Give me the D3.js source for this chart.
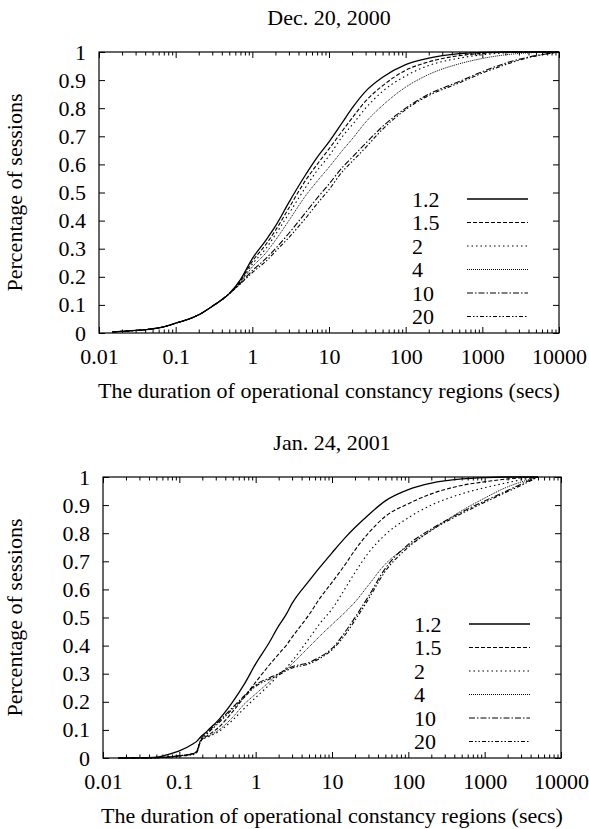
<!DOCTYPE html>
<html><head><meta charset="utf-8">
<script src="https://cdn.jsdelivr.net/npm/d3@7"></script>
<style>
body{margin:0;background:#fff}
svg{display:block}
text{font-family:"Liberation Serif","Times New Roman",serif;fill:#000}
</style>
</head><body>
<svg id="c" width="589" height="829"></svg>
<script>
// ---------- data ----------
const seriesNames = ["1.2", "1.5", "2", "4", "10", "20"];
const titles = ["Dec. 20, 2000", "Jan. 24, 2001"];
const xLabel = "The duration of operational constancy regions (secs)";
const yLabel = "Percentage of sessions";
const xTickValues = [0.01, 0.1, 1, 10, 100, 1000, 10000];
const xTickLabels = ["0.01", "0.1", "1", "10", "100", "1000", "10000"];
const yTickValues = [0, 0.1, 0.2, 0.3, 0.4, 0.5, 0.6, 0.7, 0.8, 0.9, 1];
const yTickLabels = ["0", "0.1", "0.2", "0.3", "0.4", "0.5", "0.6", "0.7", "0.8", "0.9", "1"];

// Dec. 20, 2000
const decX   = [0.015,0.02,0.03,0.05,0.07,0.1,0.15,0.2,0.3,0.5,0.7,1,1.5,2,3,5,7,10,15,20,30,50,100,200,500,1000,2000,4000,8000,10000];
const dec_12 = [0.004,0.006,0.009,0.015,0.022,0.035,0.05,0.065,0.095,0.14,0.19,0.265,0.33,0.38,0.465,0.565,0.625,0.68,0.75,0.80,0.86,0.91,0.955,0.978,0.994,0.999,1,1,1,1];
const dec_15 = [0.004,0.006,0.009,0.015,0.022,0.035,0.05,0.065,0.095,0.14,0.185,0.255,0.315,0.365,0.445,0.545,0.60,0.655,0.72,0.765,0.825,0.88,0.935,0.965,0.987,0.995,0.999,1,1,1];
const dec_2  = [0.004,0.006,0.009,0.015,0.022,0.035,0.05,0.065,0.095,0.14,0.183,0.245,0.30,0.35,0.425,0.52,0.578,0.63,0.70,0.74,0.80,0.86,0.915,0.952,0.978,0.99,0.997,1,1,1];
const dec_4  = [0.004,0.006,0.009,0.015,0.022,0.035,0.05,0.065,0.095,0.14,0.18,0.235,0.285,0.33,0.40,0.49,0.54,0.59,0.65,0.69,0.75,0.81,0.875,0.92,0.958,0.977,0.99,0.997,1,1];
const dec_10 = [0.004,0.006,0.009,0.015,0.022,0.035,0.05,0.065,0.095,0.14,0.177,0.222,0.265,0.30,0.355,0.43,0.48,0.53,0.59,0.625,0.675,0.735,0.80,0.85,0.895,0.93,0.96,0.982,0.996,1];
const dec_20 = [0.004,0.006,0.009,0.015,0.022,0.035,0.05,0.065,0.095,0.14,0.175,0.215,0.255,0.29,0.34,0.41,0.46,0.51,0.575,0.61,0.66,0.725,0.795,0.845,0.89,0.925,0.955,0.98,0.996,1];

// Jan. 24, 2001
const janX   = [0.016,0.03,0.05,0.07,0.1,0.15,0.17,0.19,0.22,0.25,0.3,0.5,0.7,1,1.5,2,2.5,3,5,7,10,15,20,30,50,100,200,500,1000,2000,3000,5000];
const jan_12 = [0,0.001,0.003,0.012,0.025,0.05,0.06,0.075,0.09,0.105,0.125,0.2,0.26,0.335,0.41,0.47,0.51,0.55,0.63,0.68,0.73,0.785,0.82,0.865,0.915,0.955,0.978,0.993,0.998,1,1,1];
const jan_15 = [0,0,0.001,0.003,0.008,0.015,0.025,0.06,0.075,0.085,0.1,0.165,0.215,0.27,0.33,0.37,0.40,0.43,0.51,0.57,0.625,0.69,0.74,0.80,0.86,0.905,0.94,0.97,0.983,0.993,0.997,1];
const jan_2  = [0,0,0.001,0.003,0.008,0.015,0.025,0.06,0.072,0.078,0.088,0.135,0.175,0.215,0.26,0.295,0.32,0.345,0.425,0.48,0.53,0.605,0.66,0.73,0.795,0.855,0.90,0.94,0.962,0.98,0.99,1];
const jan_4  = [0,0,0.001,0.003,0.008,0.015,0.025,0.062,0.074,0.08,0.092,0.145,0.19,0.228,0.27,0.30,0.315,0.335,0.395,0.435,0.475,0.52,0.555,0.615,0.69,0.755,0.81,0.88,0.925,0.965,0.982,1];
const jan_10 = [0,0,0.001,0.003,0.008,0.015,0.025,0.065,0.085,0.10,0.12,0.18,0.22,0.26,0.285,0.30,0.315,0.325,0.34,0.36,0.39,0.45,0.50,0.575,0.675,0.76,0.815,0.875,0.915,0.952,0.975,1];
const jan_20 = [0,0,0.001,0.003,0.007,0.012,0.02,0.06,0.08,0.095,0.115,0.175,0.215,0.255,0.28,0.295,0.31,0.32,0.335,0.355,0.385,0.44,0.49,0.565,0.665,0.75,0.81,0.87,0.91,0.948,0.97,1];

// ---------- styles / layout ----------
const dashes = [null, "4,2", "1.5,3", "1,1", "6,2,1.5,2", "4,2,1.5,2,1.5,2"];
const widths = [1.3, 1.1, 1.1, 1, 1.1, 1.1];
const FS = 22;

const panels = [
  {title: titles[0], x: decX, ys: [dec_12, dec_15, dec_2, dec_4, dec_10, dec_20],
   left: 99, right: 559, top: 52, bottom: 333},
  {title: titles[1], x: janX, ys: [jan_12, jan_15, jan_2, jan_4, jan_10, jan_20],
   left: 103, right: 561, top: 477, bottom: 758}
];

const svg = d3.select("#c");

panels.forEach(p => {
  const g = svg.append("g");
  const x = d3.scaleLog().domain([0.01, 10000]).range([p.left, p.right]);
  const y = d3.scaleLinear().domain([0, 1]).range([p.bottom, p.top]);

  const minor = [];
  xTickValues.slice(0, -1).forEach(d => { for (let k = 2; k <= 9; k++) minor.push(d * k); });

  const fmtX = (d) => xTickLabels[xTickValues.indexOf(d)];
  const fmtY = (d) => yTickLabels[yTickValues.indexOf(d)];

  g.append("g").attr("transform", `translate(0,${p.bottom})`)
    .call(d3.axisBottom(x).tickValues(minor).tickSize(-3.5).tickFormat(""))
    .call(a => a.select(".domain").remove());
  g.append("g").attr("transform", `translate(0,${p.top})`)
    .call(d3.axisTop(x).tickValues(minor).tickSize(-3.5).tickFormat(""))
    .call(a => a.select(".domain").remove());
  const xb = g.append("g").attr("transform", `translate(0,${p.bottom})`)
    .call(d3.axisBottom(x).tickValues(xTickValues).tickSize(-6).tickPadding(15).tickFormat(fmtX));
  xb.select(".domain").remove();
  g.append("g").attr("transform", `translate(0,${p.top})`)
    .call(d3.axisTop(x).tickValues(xTickValues).tickSize(-6).tickFormat(""))
    .call(a => a.select(".domain").remove());
  const yl = g.append("g").attr("transform", `translate(${p.left},0)`)
    .call(d3.axisLeft(y).tickValues(yTickValues).tickSize(-6).tickPadding(13).tickFormat(fmtY));
  yl.select(".domain").remove();
  g.append("g").attr("transform", `translate(${p.right},0)`)
    .call(d3.axisRight(y).tickValues(yTickValues).tickSize(-6).tickFormat(""))
    .call(a => a.select(".domain").remove());

  g.selectAll(".tick line").attr("stroke", "#000").attr("stroke-width", 1);
  g.selectAll(".tick text").attr("font-size", FS).attr("font-family", '"Liberation Serif",serif');

  g.append("rect").attr("x", p.left).attr("y", p.top)
    .attr("width", p.right - p.left).attr("height", p.bottom - p.top)
    .attr("fill", "none").attr("stroke", "#000").attr("stroke-width", 1.2);

  const line = d3.line().x(d => x(d[0])).y(d => y(d[1])).curve(d3.curveMonotoneX);
  p.ys.forEach((ys, i) => {
    const pts = p.x.map((xv, j) => [xv, ys[j]]);
    g.append("path").attr("d", line(pts)).attr("fill", "none")
      .attr("stroke", "#000").attr("stroke-width", widths[i])
      .attr("stroke-dasharray", dashes[i]);
  });

  seriesNames.forEach((n, i) => {
    const ry = p.top + 147 + i * 23.5;
    g.append("text").attr("x", p.right - 147).attr("y", ry + 7.5)
      .attr("font-size", FS).text(n);
    g.append("line").attr("x1", p.right - 92).attr("x2", p.right - 31)
      .attr("y1", ry).attr("y2", ry)
      .attr("stroke", "#000").attr("stroke-width", widths[i])
      .attr("stroke-dasharray", dashes[i]);
  });

  g.append("text").attr("x", (p.left + p.right) / 2).attr("y", p.top - 27)
    .attr("text-anchor", "middle").attr("font-size", FS).text(p.title);
  g.append("text").attr("x", (p.left + p.right) / 2).attr("y", p.bottom + 65)
    .attr("text-anchor", "middle").attr("font-size", FS).text(xLabel);
  const cy = (p.top + p.bottom) / 2;
  g.append("text").attr("transform", `translate(22,${cy}) rotate(-90)`)
    .attr("text-anchor", "middle").attr("font-size", FS).text(yLabel);
});
</script>
</body></html>
